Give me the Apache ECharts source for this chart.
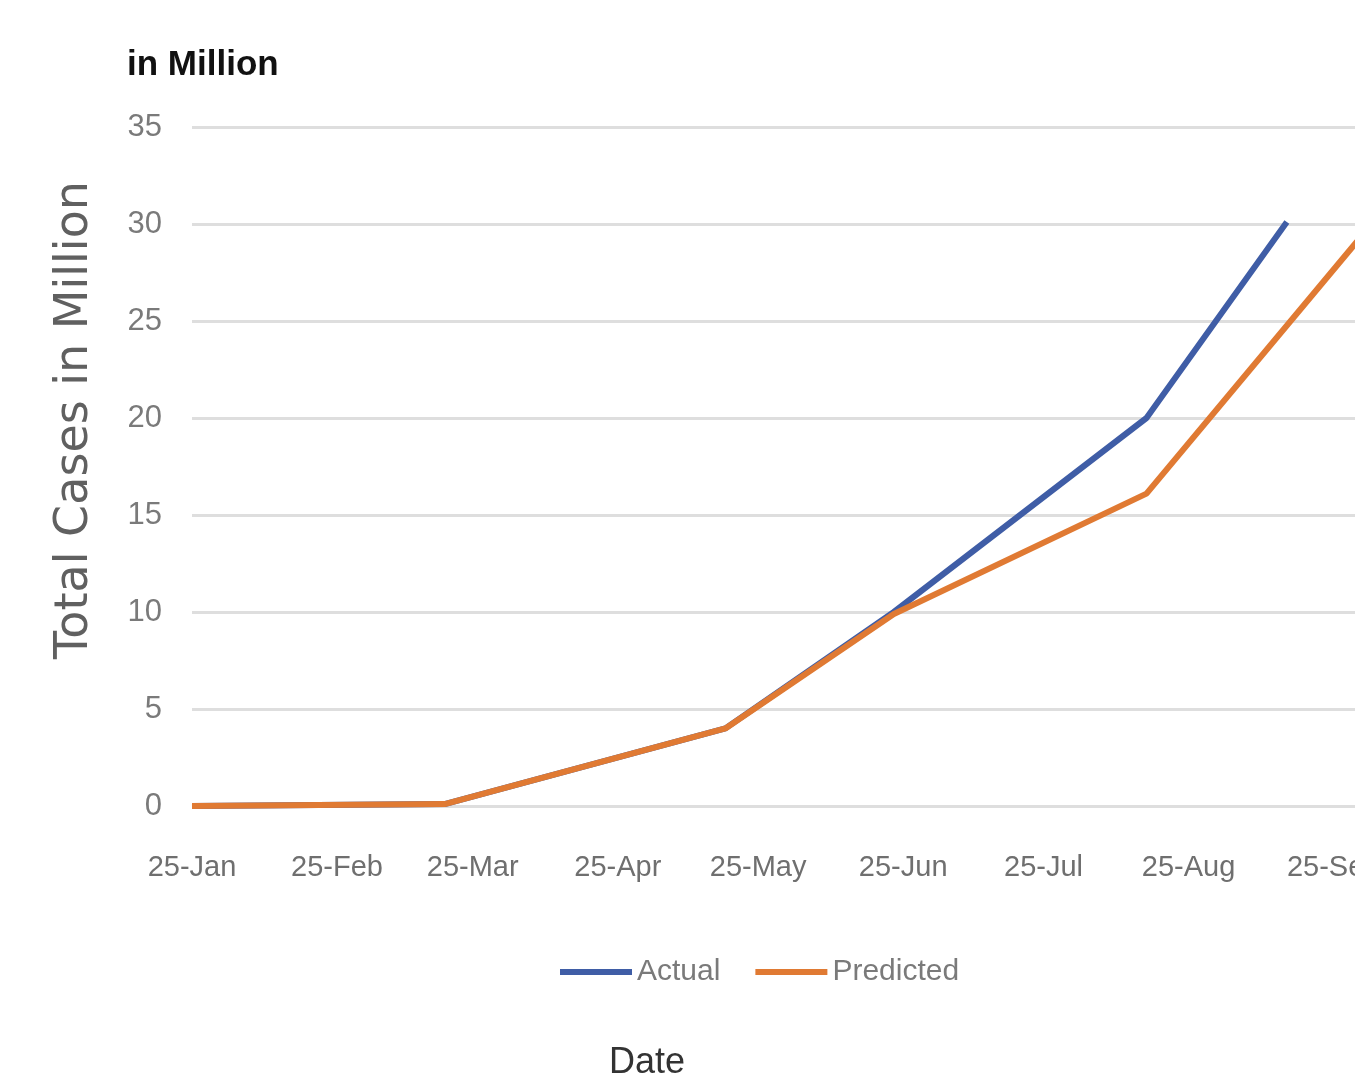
<!DOCTYPE html>
<html>
<head>
<meta charset="utf-8">
<title>Total Cases in Million</title>
<script src="https://cdn.jsdelivr.net/npm/echarts@6/dist/echarts.min.js"></script>
<style>
  html, body { margin: 0; padding: 0; background: #fff; overflow: hidden; }
  #chart { width: 1500px; height: 1079px; }
</style>
</head>
<body>
<div id="chart"></div>
<script>
// Cumulative cases (millions), 2020
const actualDates = ['2020-01-25', '2020-03-19', '2020-05-18', '2020-06-23', '2020-08-16', '2020-09-15'];
const actualValues = [0, 0.1, 4.0, 10.0, 20.0, 30.1];

const predictedDates = ['2020-01-25', '2020-03-19', '2020-05-18', '2020-06-23', '2020-08-16', '2020-09-30'];
const predictedValues = [0, 0.1, 4.0, 9.9, 16.1, 29.1];

// Month ticks on the 25th
const tickDates = ['2020-01-25', '2020-02-25', '2020-03-25', '2020-04-25', '2020-05-25',
                   '2020-06-25', '2020-07-25', '2020-08-25', '2020-09-25', '2020-10-25'];
const tickLabels = ['25-Jan', '25-Feb', '25-Mar', '25-Apr', '25-May',
                    '25-Jun', '25-Jul', '25-Aug', '25-Sep', '25-Oct'];

const yTicks = [0, 5, 10, 15, 20, 25, 30, 35];

// Dates are placed on a day-count axis starting at the first tick
const DAY = 86400000;
function utc(s) {
  const [y, m, d] = s.split('-').map(Number);
  return Date.UTC(y, m - 1, d);
}
const origin = utc(tickDates[0]);
const dayOf = s => Math.round((utc(s) - origin) / DAY);
const tickDays = tickDates.map(dayOf);
const pair = (dates, vals) => dates.map((d, i) => [dayOf(d), vals[i]]);

const labelFont = "'Liberation Sans', Arial, sans-serif";

const chart = echarts.init(document.getElementById('chart'), null, { renderer: 'canvas' });
chart.setOption({
  animation: false,
  backgroundColor: '#ffffff',
  title: [
    {
      text: 'in Million',
      left: 122, top: 43,
      textStyle: { fontFamily: labelFont, fontWeight: 'bold', fontSize: 35, color: '#111111' }
    },
    {
      text: 'Date',
      left: 604, top: 1040,
      textStyle: { fontFamily: labelFont, fontWeight: 'normal', fontSize: 36, color: '#333333' }
    }
  ],
  graphic: [
    {
      type: 'text',
      x: 75, y: 420,
      rotation: Math.PI / 2,
      style: {
        text: 'Total Cases in Million',
        fontFamily: "'DejaVu Sans', sans-serif",
        fontSize: 46,
        fill: '#606060',
        align: 'center',
        verticalAlign: 'middle'
      }
    }
  ],
  legend: {
    left: 555, top: 952,
    icon: 'rect',
    itemWidth: 72, itemHeight: 6, itemGap: 35,
    textStyle: { fontFamily: labelFont, fontSize: 30, color: '#7a7a7a' },
    data: ['Actual', 'Predicted']
  },
  grid: { left: 192, right: 26, top: 127, bottom: 273, outerBoundsMode: 'none', containLabel: false },
  xAxis: {
    type: 'value',
    min: tickDays[0],
    max: tickDays[tickDays.length - 1],
    axisLine: { show: false },
    axisTick: { show: false },
    splitLine: { show: false },
    axisLabel: {
      customValues: tickDays,
      margin: 47,
      fontFamily: labelFont,
      fontSize: 29,
      color: '#6f6f6f',
      formatter: v => {
        const i = tickDays.indexOf(v);
        return i >= 0 ? tickLabels[i] : '';
      }
    }
  },
  yAxis: {
    type: 'value',
    min: yTicks[0], max: yTicks[yTicks.length - 1], interval: 5,
    axisLine: { show: false },
    axisTick: { show: false },
    axisLabel: { margin: 30, fontFamily: labelFont, fontSize: 31, color: '#7a7a7a' },
    splitLine: { lineStyle: { color: '#dedede', width: 3 } }
  },
  series: [
    {
      name: 'Actual',
      type: 'line',
      data: pair(actualDates, actualValues),
      showSymbol: false,
      lineStyle: { color: '#3f5da6', width: 6 },
      itemStyle: { color: '#3f5da6' },
      z: 2
    },
    {
      name: 'Predicted',
      type: 'line',
      data: pair(predictedDates, predictedValues),
      showSymbol: false,
      lineStyle: { color: '#e07a33', width: 6 },
      itemStyle: { color: '#e07a33' },
      z: 3
    }
  ]
});
</script>
</body>
</html>
